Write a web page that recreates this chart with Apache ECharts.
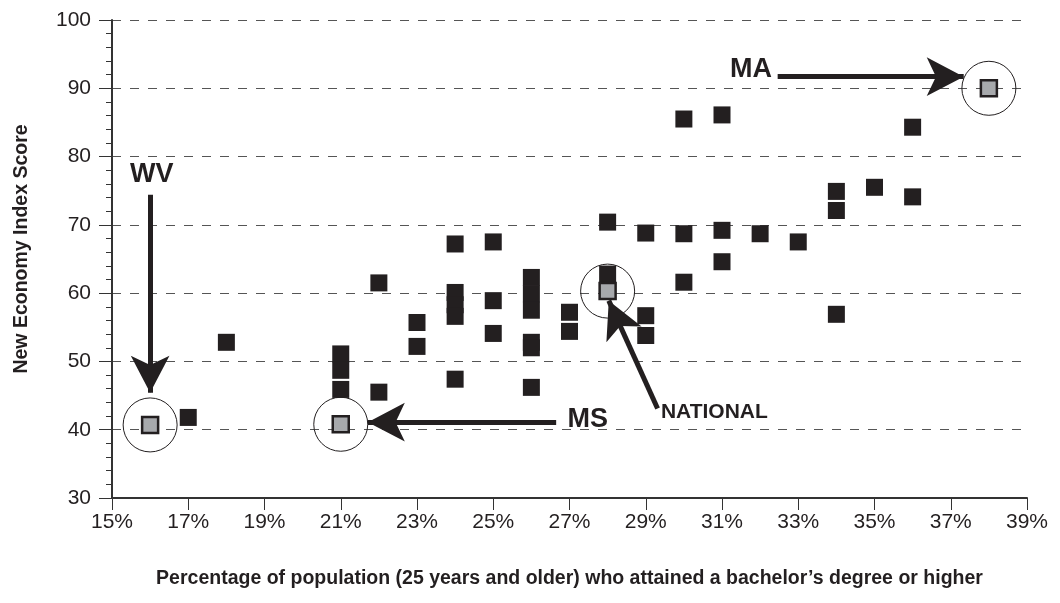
<!DOCTYPE html>
<html>
<head>
<meta charset="utf-8">
<script src="https://cdn.jsdelivr.net/npm/echarts@6/dist/echarts.min.js"></script>
<style>
  html, body { margin: 0; padding: 0; background: #fff; }
  #chart { width: 1060px; height: 603px; }
</style>
</head>
<body>
<div id="chart"></div>
<script>
// states: share with bachelor's degree (%) and New Economy Index score
let statePoints = [
    [17, 41.8], [18, 52.8],
    [21, 51.1], [21, 48.7], [21, 45.9],
    [22, 61.5], [22, 45.5],
    [23, 55.7], [23, 52.2],
    [24, 67.2], [24, 60.1], [24, 58.3], [24, 56.6], [24, 47.4],
    [25, 67.5], [25, 58.9], [25, 54.1],
    [26, 62.3], [26, 59.9], [26, 57.5], [26, 52.8], [26, 52.0], [26, 46.2],
    [27, 57.2], [27, 54.4],
    [28, 70.4], [28, 62.8],
    [29, 68.8], [29, 56.7], [29, 53.8],
    [30, 85.5], [30, 68.7], [30, 61.6],
    [31, 86.1], [31, 69.2], [31, 64.6],
    [32, 68.7], [33, 67.5],
    [34, 74.9], [34, 72.1], [34, 56.9],
    [35, 75.5],
    [36, 84.3], [36, 74.1]
];

// highlighted points
let highlightNames = ['WV', 'MS', 'NATIONAL', 'MA'];
let highlightPoints = [[16, 40.7], [21, 40.8], [28, 60.3], [38, 90]];

let xTicks = { min: 15, max: 39, interval: 2 };
let yTicks = { min: 30, max: 100, interval: 10 };

// arrows: [tail, tip] in data units
let arrowLines = [
    [[16, 74.4], [16, 45.4]],
    [[26.65, 41.1], [21.71, 41.1]],
    [[29.31, 43.1], [28.03, 58.9]],
    [[32.46, 91.7], [37.34, 91.7]]
];
// label anchor for each highlighted name
let labelPoints = [[16.04, 77.4], [27.48, 41.5], [30.8, 42.5], [31.76, 92.8]];

const ink = '#231f20';
const sans = "'Liberation Sans', Arial, sans-serif";

let chart = echarts.init(document.getElementById('chart'));

let markData = arrowLines.map(function (pair) {
    return [
        { coord: pair[0], symbol: 'none' },
        { coord: pair[1], symbol: 'arrow', symbolSize: [29, 37] }
    ];
});

let noteData = labelPoints.map(function (p, i) {
    return {
        name: highlightNames[i],
        value: p,
        label: { fontSize: highlightNames[i] === 'NATIONAL' ? 21 : 27 }
    };
});

chart.setOption({
    animation: false,
    backgroundColor: '#fff',
    grid: { left: 112, right: 33, top: 20, bottom: 105, outerBoundsMode: 'none' },
    xAxis: {
        type: 'value',
        min: xTicks.min,
        max: xTicks.max,
        interval: xTicks.interval,
        name: 'Percentage of population (25 years and older) who attained a bachelor\u2019s degree or higher',
        nameLocation: 'middle',
        nameGap: 71,
        nameTextStyle: { fontFamily: sans, fontWeight: 'bold', fontSize: 19.5, color: ink },
        axisLine: { lineStyle: { color: '#333', width: 2 } },
        axisTick: { length: 12, lineStyle: { color: '#333', width: 1 } },
        axisLabel: { formatter: '{value}%', fontFamily: sans, fontSize: 21, color: ink, margin: 14 },
        splitLine: { show: false }
    },
    yAxis: {
        type: 'value',
        min: yTicks.min,
        max: yTicks.max,
        interval: yTicks.interval,
        name: 'New Economy Index Score',
        nameLocation: 'middle',
        nameGap: 80,
        nameRotate: 90,
        nameTextStyle: { fontFamily: sans, fontWeight: 'bold', fontSize: 19.5, color: ink, padding: [0, 0, 0, 20] },
        axisLine: { show: true, lineStyle: { color: '#333', width: 2 } },
        axisTick: { show: true, length: 13, lineStyle: { color: '#333', width: 1 } },
        minorTick: { show: true, splitNumber: 5, length: 6, lineStyle: { color: '#333', width: 1 } },
        axisLabel: { fontFamily: sans, fontSize: 21, color: ink, margin: 21 },
        splitLine: { show: true, lineStyle: { color: '#555', width: 1, type: [9, 9] } }
    },
    series: [
        {
            name: 'states',
            type: 'scatter',
            symbol: 'rect',
            symbolSize: 17,
            itemStyle: { color: ink, opacity: 1 },
            data: statePoints,
            z: 2
        },
        {
            name: 'rings',
            type: 'scatter',
            symbol: 'circle',
            symbolSize: 54,
            silent: true,
            itemStyle: { color: 'rgba(0,0,0,0)', borderColor: ink, borderWidth: 1, opacity: 1 },
            data: highlightPoints,
            z: 3
        },
        {
            name: 'highlight',
            type: 'scatter',
            symbol: 'rect',
            symbolSize: 16,
            itemStyle: { color: '#a7a9ac', borderColor: ink, borderWidth: 2.5, opacity: 1 },
            data: highlightPoints,
            z: 4,
            markLine: {
                silent: true,
                animation: false,
                label: { show: false },
                lineStyle: { type: 'solid', width: 5, color: ink, opacity: 1 },
                emphasis: { disabled: true },
                data: markData
            }
        },
        {
            name: 'notes',
            type: 'scatter',
            symbol: 'circle',
            symbolSize: 1,
            silent: true,
            itemStyle: { color: 'rgba(0,0,0,0)', opacity: 1 },
            label: {
                show: true,
                position: 'inside',
                formatter: '{b}',
                fontFamily: sans,
                fontWeight: 'bold',
                color: ink,
                opacity: 1
            },
            data: noteData,
            z: 5
        }
    ]
});
</script>
</body>
</html>
